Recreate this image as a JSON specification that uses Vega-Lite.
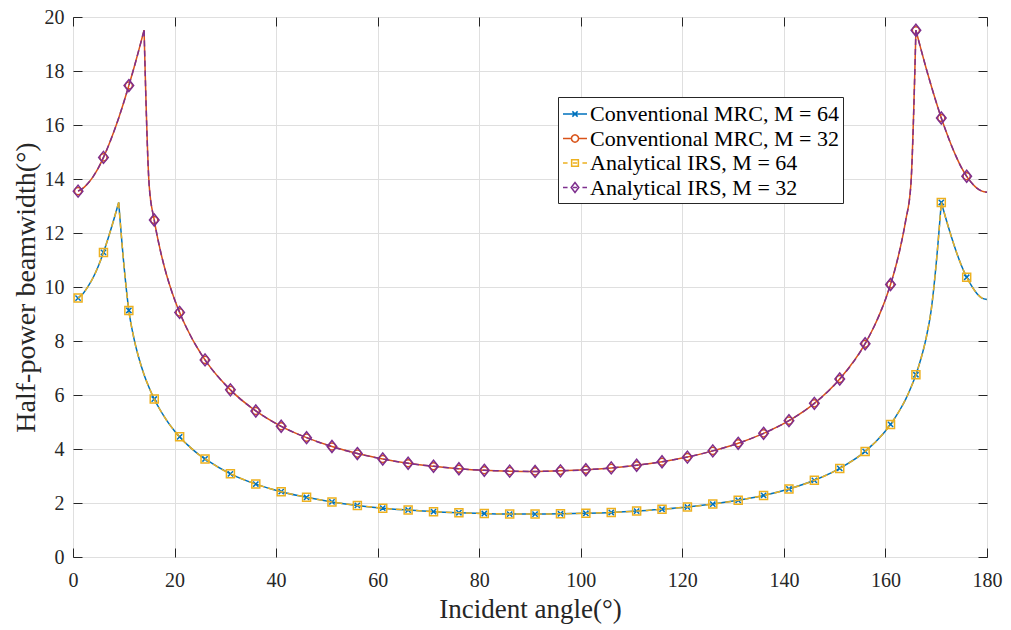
{
  "$schema": "https://vega.github.io/schema/vega-lite/v6.json",
  "width": 914,
  "height": 540,
  "autosize": {"type": "none"},
  "padding": {"left": 73, "top": 17, "right": 24, "bottom": 73},
  "background": "white",
  "config": {
    "font": "Liberation Serif",
    "view": {"stroke": "#262626", "strokeWidth": 1}
  },
  "datasets": {
    "series": [
      {"series": "Conventional MRC, M = 64"}, {"series": "Conventional MRC, M = 32"},
      {"series": "Analytical IRS, M = 64"}, {"series": "Analytical IRS, M = 32"}
    ],
    "c64": [
      {"seg": 1, "x": 1, "y": 9.59}, {"seg": 1, "x": 2, "y": 9.76}, {"seg": 1, "x": 3, "y": 10.03}, {"seg": 1, "x": 4, "y": 10.36},
      {"seg": 1, "x": 5, "y": 10.78}, {"seg": 1, "x": 6, "y": 11.28}, {"seg": 1, "x": 7, "y": 11.85}, {"seg": 1, "x": 8, "y": 12.47},
      {"seg": 1, "x": 9, "y": 13.13},
      {"seg": 2, "x": 9, "y": 13.13}, {"seg": 2, "x": 10, "y": 10.87}, {"seg": 2, "x": 11, "y": 9.13}, {"seg": 2, "x": 12, "y": 8.10},
      {"seg": 2, "x": 13, "y": 7.35}, {"seg": 2, "x": 14, "y": 6.75}, {"seg": 2, "x": 15, "y": 6.27}, {"seg": 2, "x": 16, "y": 5.85},
      {"seg": 2, "x": 17, "y": 5.50}, {"seg": 2, "x": 18, "y": 5.19}, {"seg": 2, "x": 19, "y": 4.91}, {"seg": 2, "x": 20, "y": 4.67},
      {"seg": 2, "x": 21, "y": 4.45}, {"seg": 2, "x": 22, "y": 4.25}, {"seg": 2, "x": 23, "y": 4.08}, {"seg": 2, "x": 24, "y": 3.91},
      {"seg": 2, "x": 25, "y": 3.76}, {"seg": 2, "x": 26, "y": 3.63}, {"seg": 2, "x": 31, "y": 3.08}, {"seg": 2, "x": 36, "y": 2.70},
      {"seg": 2, "x": 41, "y": 2.42}, {"seg": 2, "x": 46, "y": 2.21}, {"seg": 2, "x": 51, "y": 2.04}, {"seg": 2, "x": 56, "y": 1.91},
      {"seg": 2, "x": 61, "y": 1.81}, {"seg": 2, "x": 66, "y": 1.74}, {"seg": 2, "x": 71, "y": 1.68}, {"seg": 2, "x": 76, "y": 1.64},
      {"seg": 2, "x": 81, "y": 1.61}, {"seg": 2, "x": 86, "y": 1.59}, {"seg": 2, "x": 91, "y": 1.59}, {"seg": 2, "x": 96, "y": 1.60},
      {"seg": 2, "x": 101, "y": 1.62}, {"seg": 2, "x": 106, "y": 1.65}, {"seg": 2, "x": 111, "y": 1.70}, {"seg": 2, "x": 116, "y": 1.77},
      {"seg": 2, "x": 121, "y": 1.85}, {"seg": 2, "x": 126, "y": 1.96}, {"seg": 2, "x": 131, "y": 2.10}, {"seg": 2, "x": 136, "y": 2.28},
      {"seg": 2, "x": 141, "y": 2.52}, {"seg": 2, "x": 146, "y": 2.84}, {"seg": 2, "x": 151, "y": 3.28}, {"seg": 2, "x": 156, "y": 3.91},
      {"seg": 2, "x": 157, "y": 4.08}, {"seg": 2, "x": 158, "y": 4.25}, {"seg": 2, "x": 159, "y": 4.45}, {"seg": 2, "x": 160, "y": 4.67},
      {"seg": 2, "x": 161, "y": 4.91}, {"seg": 2, "x": 162, "y": 5.19}, {"seg": 2, "x": 163, "y": 5.50}, {"seg": 2, "x": 164, "y": 5.85},
      {"seg": 2, "x": 165, "y": 6.27}, {"seg": 2, "x": 166, "y": 6.75}, {"seg": 2, "x": 167, "y": 7.35}, {"seg": 2, "x": 168, "y": 8.10},
      {"seg": 2, "x": 169, "y": 9.13}, {"seg": 2, "x": 170, "y": 10.87}, {"seg": 2, "x": 171, "y": 13.13},
      {"seg": 3, "x": 171, "y": 13.13}, {"seg": 3, "x": 172, "y": 12.47}, {"seg": 3, "x": 173, "y": 11.85}, {"seg": 3, "x": 174, "y": 11.28},
      {"seg": 3, "x": 175, "y": 10.78}, {"seg": 3, "x": 176, "y": 10.36}, {"seg": 3, "x": 177, "y": 10.03}, {"seg": 3, "x": 178, "y": 9.76},
      {"seg": 3, "x": 179, "y": 9.59}, {"seg": 3, "x": 180, "y": 9.54}
    ],
    "c32": [
      {"seg": 1, "x": 1, "y": 13.55}, {"seg": 1, "x": 2, "y": 13.66}, {"seg": 1, "x": 3, "y": 13.85}, {"seg": 1, "x": 4, "y": 14.10},
      {"seg": 1, "x": 5, "y": 14.41}, {"seg": 1, "x": 6, "y": 14.80}, {"seg": 1, "x": 7, "y": 15.24}, {"seg": 1, "x": 8, "y": 15.73},
      {"seg": 1, "x": 9, "y": 16.26}, {"seg": 1, "x": 10, "y": 16.84}, {"seg": 1, "x": 11, "y": 17.46}, {"seg": 1, "x": 12, "y": 18.11},
      {"seg": 1, "x": 13, "y": 18.80}, {"seg": 1, "x": 14, "y": 19.51},
      {"seg": 2, "x": 14, "y": 19.51}, {"seg": 2, "x": 15, "y": 13.77}, {"seg": 2, "x": 16, "y": 12.48}, {"seg": 2, "x": 17, "y": 11.52},
      {"seg": 2, "x": 18, "y": 10.74}, {"seg": 2, "x": 19, "y": 10.09}, {"seg": 2, "x": 20, "y": 9.54}, {"seg": 2, "x": 21, "y": 9.06},
      {"seg": 2, "x": 22, "y": 8.63}, {"seg": 2, "x": 23, "y": 8.25}, {"seg": 2, "x": 24, "y": 7.90}, {"seg": 2, "x": 25, "y": 7.59},
      {"seg": 2, "x": 26, "y": 7.30}, {"seg": 2, "x": 31, "y": 6.19}, {"seg": 2, "x": 36, "y": 5.41}, {"seg": 2, "x": 41, "y": 4.84},
      {"seg": 2, "x": 46, "y": 4.42}, {"seg": 2, "x": 51, "y": 4.09}, {"seg": 2, "x": 56, "y": 3.83}, {"seg": 2, "x": 61, "y": 3.63},
      {"seg": 2, "x": 66, "y": 3.47}, {"seg": 2, "x": 71, "y": 3.36}, {"seg": 2, "x": 76, "y": 3.27}, {"seg": 2, "x": 81, "y": 3.21},
      {"seg": 2, "x": 86, "y": 3.18}, {"seg": 2, "x": 91, "y": 3.17}, {"seg": 2, "x": 96, "y": 3.19}, {"seg": 2, "x": 101, "y": 3.23},
      {"seg": 2, "x": 106, "y": 3.30}, {"seg": 2, "x": 111, "y": 3.40}, {"seg": 2, "x": 116, "y": 3.53}, {"seg": 2, "x": 121, "y": 3.70},
      {"seg": 2, "x": 126, "y": 3.93}, {"seg": 2, "x": 131, "y": 4.21}, {"seg": 2, "x": 136, "y": 4.58}, {"seg": 2, "x": 141, "y": 5.05},
      {"seg": 2, "x": 146, "y": 5.69}, {"seg": 2, "x": 151, "y": 6.59}, {"seg": 2, "x": 156, "y": 7.90}, {"seg": 2, "x": 157, "y": 8.25},
      {"seg": 2, "x": 158, "y": 8.63}, {"seg": 2, "x": 159, "y": 9.06}, {"seg": 2, "x": 160, "y": 9.54}, {"seg": 2, "x": 161, "y": 10.09},
      {"seg": 2, "x": 162, "y": 10.74}, {"seg": 2, "x": 163, "y": 11.52}, {"seg": 2, "x": 164, "y": 12.48}, {"seg": 2, "x": 165, "y": 13.77},
      {"seg": 2, "x": 166, "y": 19.51},
      {"seg": 3, "x": 166, "y": 19.51}, {"seg": 3, "x": 167, "y": 18.80}, {"seg": 3, "x": 168, "y": 18.11}, {"seg": 3, "x": 169, "y": 17.46},
      {"seg": 3, "x": 170, "y": 16.84}, {"seg": 3, "x": 171, "y": 16.26}, {"seg": 3, "x": 172, "y": 15.73}, {"seg": 3, "x": 173, "y": 15.24},
      {"seg": 3, "x": 174, "y": 14.80}, {"seg": 3, "x": 175, "y": 14.41}, {"seg": 3, "x": 176, "y": 14.10}, {"seg": 3, "x": 177, "y": 13.85},
      {"seg": 3, "x": 178, "y": 13.66}, {"seg": 3, "x": 179, "y": 13.55}, {"seg": 3, "x": 180, "y": 13.51}
    ],
    "k64": [
      {"x": 1, "y": 9.59}, {"x": 6, "y": 11.28}, {"x": 11, "y": 9.13}, {"x": 16, "y": 5.85}, {"x": 21, "y": 4.45}, {"x": 26, "y": 3.63},
      {"x": 31, "y": 3.08}, {"x": 36, "y": 2.70}, {"x": 41, "y": 2.42}, {"x": 46, "y": 2.21}, {"x": 51, "y": 2.04}, {"x": 56, "y": 1.91},
      {"x": 61, "y": 1.81}, {"x": 66, "y": 1.74}, {"x": 71, "y": 1.68}, {"x": 76, "y": 1.64}, {"x": 81, "y": 1.61}, {"x": 86, "y": 1.59},
      {"x": 91, "y": 1.59}, {"x": 96, "y": 1.60}, {"x": 101, "y": 1.62}, {"x": 106, "y": 1.65}, {"x": 111, "y": 1.70}, {"x": 116, "y": 1.77},
      {"x": 121, "y": 1.85}, {"x": 126, "y": 1.96}, {"x": 131, "y": 2.10}, {"x": 136, "y": 2.28}, {"x": 141, "y": 2.52}, {"x": 146, "y": 2.84},
      {"x": 151, "y": 3.28}, {"x": 156, "y": 3.91}, {"x": 161, "y": 4.91}, {"x": 166, "y": 6.75}, {"x": 171, "y": 13.13}, {"x": 176, "y": 10.36}
    ],
    "k32": [
      {"x": 1, "y": 13.55}, {"x": 6, "y": 14.80}, {"x": 11, "y": 17.46}, {"x": 16, "y": 12.48}, {"x": 21, "y": 9.06}, {"x": 26, "y": 7.30},
      {"x": 31, "y": 6.19}, {"x": 36, "y": 5.41}, {"x": 41, "y": 4.84}, {"x": 46, "y": 4.42}, {"x": 51, "y": 4.09}, {"x": 56, "y": 3.83},
      {"x": 61, "y": 3.63}, {"x": 66, "y": 3.47}, {"x": 71, "y": 3.36}, {"x": 76, "y": 3.27}, {"x": 81, "y": 3.21}, {"x": 86, "y": 3.18},
      {"x": 91, "y": 3.17}, {"x": 96, "y": 3.19}, {"x": 101, "y": 3.23}, {"x": 106, "y": 3.30}, {"x": 111, "y": 3.40}, {"x": 116, "y": 3.53},
      {"x": 121, "y": 3.70}, {"x": 126, "y": 3.93}, {"x": 131, "y": 4.21}, {"x": 136, "y": 4.58}, {"x": 141, "y": 5.05}, {"x": 146, "y": 5.69},
      {"x": 151, "y": 6.59}, {"x": 156, "y": 7.90}, {"x": 161, "y": 10.09}, {"x": 166, "y": 19.51}, {"x": 171, "y": 16.26}, {"x": 176, "y": 14.10}
    ]
  },
  "resolve": {"axis": {"x": "independent", "y": "independent"}},
  "layer": [
    {
      "data": {"name": "c64"},
      "mark": {"type": "line", "interpolate": "monotone", "strokeWidth": 1.5, "color": "#0072BD"},
      "encoding": {
        "x": {"field": "x", "type": "quantitative", "scale": {"domain": [0, 180], "nice": false, "zero": false},
          "axis": {"orient": "bottom", "values": [0, 20, 40, 60, 80, 100, 120, 140, 160, 180], "title": "Incident angle(°)",
            "grid": true, "gridColor": "#dfdfdf", "domain": false, "ticks": false,
            "labelPadding": 13, "labelFontSize": 20, "labelColor": "#262626", "labelFont": "Liberation Serif", "labelFlush": false, "labelOverlap": false,
            "titleFont": "Liberation Serif", "titleFontSize": 27, "titleFontWeight": "normal", "titleColor": "#262626", "titlePadding": 6}},
        "y": {"field": "y", "type": "quantitative", "scale": {"domain": [0, 20], "nice": false, "zero": false},
          "axis": {"orient": "left", "values": [0, 2, 4, 6, 8, 10, 12, 14, 16, 18, 20], "title": "Half-power beamwidth(°)",
            "grid": true, "gridColor": "#dfdfdf", "domain": false, "ticks": false,
            "labelPadding": 9, "labelFontSize": 20, "labelColor": "#262626", "labelFont": "Liberation Serif", "labelFlush": false, "labelOverlap": false,
            "titleFont": "Liberation Serif", "titleFontSize": 28, "titleFontWeight": "normal", "titleColor": "#262626", "titlePadding": 4}},
        "detail": {"field": "seg", "type": "nominal"}
      }
    },
    {
      "data": {"name": "k64"},
      "mark": {"type": "point", "shape": "M-1,-1L1,1M-1,1L1,-1", "size": 28, "filled": false, "strokeWidth": 1.5, "opacity": 1, "color": "#0072BD"},
      "encoding": {
        "x": {"field": "x", "type": "quantitative",
          "axis": {"orient": "top", "offset": -9, "values": [0, 20, 40, 60, 80, 100, 120, 140, 160, 180], "title": null, "labels": false,
            "grid": false, "domain": false, "ticks": true, "tickSize": 9, "tickColor": "#262626"}},
        "y": {"field": "y", "type": "quantitative",
          "axis": {"orient": "right", "offset": -9, "values": [0, 2, 4, 6, 8, 10, 12, 14, 16, 18, 20], "title": null, "labels": false,
            "grid": false, "domain": false, "ticks": true, "tickSize": 9, "tickColor": "#262626"}}
      }
    },
    {
      "data": {"name": "c32"},
      "mark": {"type": "line", "interpolate": "monotone", "strokeWidth": 1.5, "color": "#D95319"},
      "encoding": {
        "x": {"field": "x", "type": "quantitative",
          "axis": {"orient": "bottom", "offset": -9, "values": [0, 20, 40, 60, 80, 100, 120, 140, 160, 180], "title": null, "labels": false,
            "grid": false, "domain": false, "ticks": true, "tickSize": 9, "tickColor": "#262626"}},
        "y": {"field": "y", "type": "quantitative",
          "axis": {"orient": "left", "offset": -9, "values": [0, 2, 4, 6, 8, 10, 12, 14, 16, 18, 20], "title": null, "labels": false,
            "grid": false, "domain": false, "ticks": true, "tickSize": 9, "tickColor": "#262626"}},
        "detail": {"field": "seg", "type": "nominal"}
      }
    },
    {
      "data": {"name": "k32"},
      "mark": {"type": "point", "shape": "circle", "size": 50, "filled": false, "strokeWidth": 1.5, "opacity": 1, "color": "#D95319"},
      "encoding": {
        "x": {"field": "x", "type": "quantitative", "axis": null},
        "y": {"field": "y", "type": "quantitative", "axis": null}
      }
    },
    {
      "data": {"name": "c64"},
      "mark": {"type": "line", "interpolate": "monotone", "strokeWidth": 1.5, "strokeDash": [6, 4], "color": "#EDB120"},
      "encoding": {
        "x": {"field": "x", "type": "quantitative", "axis": null},
        "y": {"field": "y", "type": "quantitative", "axis": null},
        "detail": {"field": "seg", "type": "nominal"}
      }
    },
    {
      "data": {"name": "k64"},
      "mark": {"type": "point", "shape": "square", "size": 64, "filled": false, "strokeWidth": 1.5, "opacity": 1, "color": "#EDB120"},
      "encoding": {
        "x": {"field": "x", "type": "quantitative", "axis": null},
        "y": {"field": "y", "type": "quantitative", "axis": null}
      }
    },
    {
      "data": {"name": "c32"},
      "mark": {"type": "line", "interpolate": "monotone", "strokeWidth": 1.5, "strokeDash": [6, 4], "color": "#7E2F8E"},
      "encoding": {
        "x": {"field": "x", "type": "quantitative", "axis": null},
        "y": {"field": "y", "type": "quantitative", "axis": null},
        "detail": {"field": "seg", "type": "nominal"}
      }
    },
    {
      "data": {"name": "k32"},
      "mark": {"type": "point", "shape": "M0,-1L0.8,0L0,1L-0.8,0Z", "size": 144, "filled": false, "strokeWidth": 1.5, "opacity": 1, "color": "#7E2F8E"},
      "encoding": {
        "x": {"field": "x", "type": "quantitative", "axis": null},
        "y": {"field": "y", "type": "quantitative", "axis": null}
      }
    },
    {
      "data": {"name": "series"},
      "mark": {"type": "point", "filled": false, "size": 576, "strokeWidth": 1.5, "opacity": 0},
      "encoding": {
        "x": {"datum": 90, "type": "quantitative", "axis": null},
        "y": {"datum": 10, "type": "quantitative", "axis": null},
        "color": {"field": "series", "type": "nominal",
          "scale": {"domain": ["Conventional MRC, M = 64", "Conventional MRC, M = 32", "Analytical IRS, M = 64", "Analytical IRS, M = 32"],
                    "range": ["#0072BD", "#D95319", "#EDB120", "#7E2F8E"]},
          "legend": {"title": null, "orient": "none", "legendX": 485, "legendY": 80, "strokeColor": "#262626", "fillColor": "white",
            "padding": 4, "labelFont": "Liberation Serif", "labelFontSize": 22, "labelColor": "black", "labelOffset": 2, "labelLimit": 400,
            "symbolSize": 576, "rowPadding": 0.5, "symbolStrokeWidth": 1.5, "symbolOpacity": 1, "symbolFillColor": "transparent"}},
        "shape": {"field": "series", "type": "nominal",
          "scale": {"domain": ["Conventional MRC, M = 64", "Conventional MRC, M = 32", "Analytical IRS, M = 64", "Analytical IRS, M = 32"],
            "range": [
              "M-1,0L1,0M-0.22,-0.22L0.22,0.22M-0.22,0.22L0.22,-0.22",
              "M-1,0L-0.3,0M0.3,0L1,0M0.3,0L0.26,0.15L0.15,0.26L0,0.3L-0.15,0.26L-0.26,0.15L-0.3,0L-0.26,-0.15L-0.15,-0.26L0,-0.3L0.15,-0.26L0.26,-0.15Z",
              "M-1,0L-0.62,0M-0.18,0L0.18,0M0.62,0L1,0M-0.28,-0.28L0.28,-0.28L0.28,0.28L-0.28,0.28Z",
              "M-1,0L-0.62,0M-0.18,0L0.18,0M0.62,0L1,0M0,-0.42L0.32,0L0,0.42L-0.32,0Z"
            ]},
          "legend": {"title": null, "orient": "none", "legendX": 485, "legendY": 80, "strokeColor": "#262626", "fillColor": "white",
            "padding": 4, "labelFont": "Liberation Serif", "labelFontSize": 22, "labelColor": "black", "labelOffset": 2, "labelLimit": 400,
            "symbolSize": 576, "rowPadding": 0.5, "symbolStrokeWidth": 1.5, "symbolOpacity": 1, "symbolFillColor": "transparent"}}
      }
    }
  ]
}
